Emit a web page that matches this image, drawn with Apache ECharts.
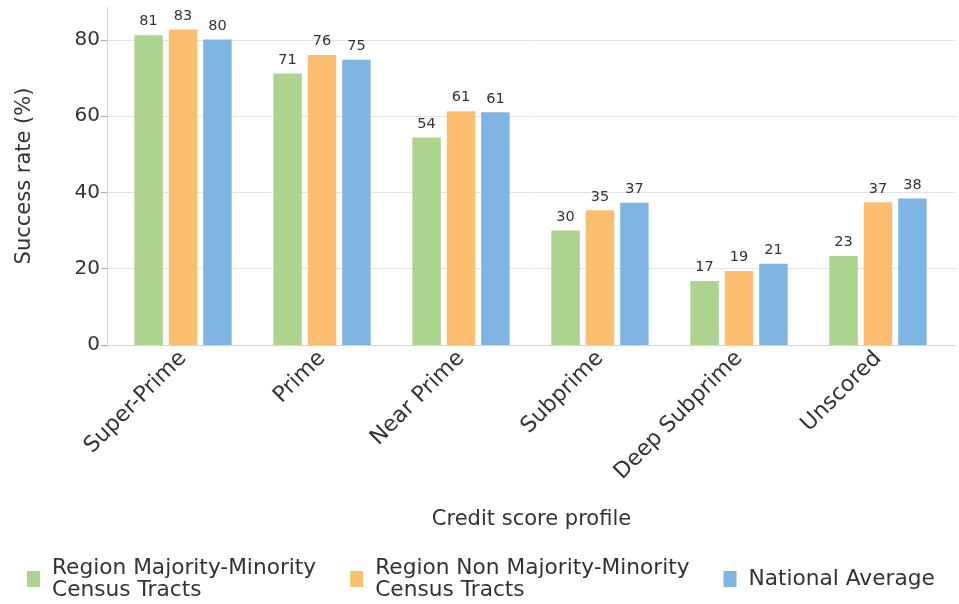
<!DOCTYPE html>
<html><head><meta charset="utf-8">
<script src="https://cdn.jsdelivr.net/npm/echarts@6/dist/echarts.min.js"></script>
<style>html,body{margin:0;padding:0;background:#fff}#c{width:959px;height:604px}</style>
</head><body><div id="c"></div>
<script>
var categories = ['Super-Prime', 'Prime', 'Near Prime', 'Subprime', 'Deep Subprime', 'Unscored'];
var seriesNames = ['Region Majority-Minority\nCensus Tracts', 'Region Non Majority-Minority\nCensus Tracts', 'National Average'];
var majorityMinority = [81.2, 71.2, 54.4, 30.0, 16.8, 23.3];
var nonMajorityMinority = [82.7, 76.0, 61.3, 35.3, 19.4, 37.4];
var nationalAverage = [80.1, 74.8, 61.0, 37.3, 21.3, 38.4];
var yTicks = [0, 20, 40, 60, 80];
var yMax = 88.6;
var colors = ['#add48f', '#fdbf6f', '#7fb5e2'];

var chart = echarts.init(document.getElementById('c'), null, {renderer: 'canvas'});
var font = 'DejaVu Sans, sans-serif';
function barSeries(name, data, color) {
  return {
    type: 'bar', name: name, data: data, xAxisIndex: 1, yAxisIndex: 1,
    barGap: '21%', barCategoryGap: '30%',
    itemStyle: {color: color},
    label: {show: true, position: 'top', distance: 6, fontSize: 14.5, color: '#333', fontFamily: font,
      formatter: function (p) { return Math.round(p.value); }}
  };
}
chart.setOption({
  animation: false,
  textStyle: {fontFamily: font},
  grid: [
    {left: 107, right: 3, top: 7, bottom: 259},
    {left: 113.5, right: 11.5, top: 7, bottom: 259}
  ],
  xAxis: [
    {type: 'value', gridIndex: 0, min: 0, max: 1, axisLabel: {show: false}, axisTick: {show: false},
     splitLine: {show: false}, axisLine: {show: true, lineStyle: {color: '#d6d6d6'}},
     name: 'Credit score profile', nameLocation: 'middle', nameGap: 164,
     nameTextStyle: {fontSize: 21, color: '#333', fontFamily: font}},
    {type: 'category', gridIndex: 1, data: categories, axisLine: {show: false}, axisTick: {show: false},
     axisLabel: {rotate: 45, fontSize: 22, color: '#333', margin: 10, fontFamily: font, interval: 0}}
  ],
  yAxis: [
    {type: 'value', gridIndex: 0, min: 0, max: yMax, interval: 20,
     axisLine: {show: true, lineStyle: {color: '#d6d6d6'}},
     axisTick: {show: true, length: 6, customValues: yTicks, lineStyle: {color: '#aaa'}},
     axisLabel: {fontSize: 20, color: '#333', margin: 7, fontFamily: font, customValues: yTicks,
       formatter: function (v) { return yTicks.indexOf(v) >= 0 ? String(v) : ''; }},
     splitLine: {show: true, lineStyle: {color: ['#e3e3e3', '#e3e3e3', '#e3e3e3', '#e3e3e3', '#e3e3e3', 'rgba(0,0,0,0)']}},
     name: 'Success rate (%)', nameLocation: 'middle', nameGap: 72,
     nameTextStyle: {fontSize: 21, color: '#333', fontFamily: font}},
    {type: 'value', gridIndex: 1, min: 0, max: yMax, interval: 20, show: false, splitLine: {show: false}}
  ],
  legend: {
    top: 552, left: 22, itemWidth: 13, itemHeight: 16, itemGap: 34, icon: 'rect',
    textStyle: {fontSize: 21.7, color: '#333', lineHeight: 22, fontFamily: font, padding: [0, 0, 0, 7]},
    data: seriesNames
  },
  series: [
    barSeries(seriesNames[0], majorityMinority, colors[0]),
    barSeries(seriesNames[1], nonMajorityMinority, colors[1]),
    barSeries(seriesNames[2], nationalAverage, colors[2])
  ]
});
</script></body></html>
